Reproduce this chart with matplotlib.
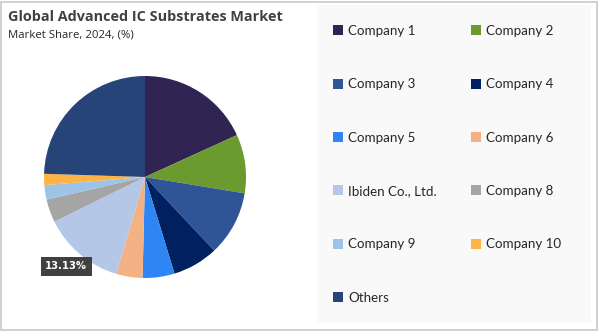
import matplotlib
matplotlib.use("Agg")
import matplotlib.pyplot as plt
from matplotlib.patches import Rectangle, Patch

labels = ["Company 1", "Company 2", "Company 3", "Company 4", "Company 5", "Company 6",
          "Ibiden Co., Ltd.", "Company 8", "Company 9", "Company 10", "Others"]
shares = [18.2, 9.4, 10.4, 7.3, 5.1, 4.2, 13.13, 3.7, 2.3, 1.8, 24.5]
colors = ["#302452", "#6b9a2f", "#2f5597", "#002060", "#2e86f5", "#f4b183",
          "#b4c7e7", "#a5a5a5", "#9dc3e6", "#ffb347", "#264478"]
highlight_label = "13.13%"

fig = plt.figure(figsize=(6, 3.32), dpi=100)
fig.patch.set_facecolor("white")

# outer frame
fig.add_artist(Rectangle((0.002, 0.005), 0.993, 0.99, transform=fig.transFigure,
                         fill=False, edgecolor="#c8c8c8", linewidth=1.2))
# legend panel
fig.add_artist(Rectangle((317/600, 1-323/332), (591-317)/600, (323-5)/332,
                         transform=fig.transFigure, facecolor="#f9f9f9",
                         edgecolor="none"))

fig.text(8/600, 1-17/332, "Global Advanced IC Substrates Market", fontsize=10.4,
         fontweight="bold", color="#404040", family="Open Sans", va="center", ha="left")
fig.text(8/600, 1-35/332, "Market Share, 2024, (%)", fontsize=8.2,
         color="#262626", family="Open Sans", va="center", ha="left")

ax = fig.add_axes([44/600, 1-278/332, 202/600, 202/332])
wedges, _ = ax.pie(shares, colors=colors, startangle=90, counterclock=False,
                   radius=1.0, wedgeprops=dict(linewidth=0))
ax.set_xlim(-1.0, 1.0)
ax.set_ylim(-1.0, 1.0)
ax.set_aspect("equal")
ax.axis("off")

fig.text(66/600, 1-266/332, highlight_label, fontsize=7.2, fontweight="bold",
         color="white", family="DejaVu Sans", ha="center", va="center",
         bbox=dict(boxstyle="square,pad=0.45", facecolor="#404040", edgecolor="none"))

handles = [Patch(facecolor=c, edgecolor="none") for c in colors]
order = list(range(0, len(labels), 2)) + list(range(1, len(labels), 2))
leg = fig.legend([handles[i] for i in order], [labels[i] for i in order],
                 ncol=2, loc="upper left", bbox_to_anchor=(321/600, 1-13/332),
                 frameon=False, prop=dict(family="Lato", size=9.6),
                 handlelength=0.75, handleheight=0.75, handletextpad=0.4,
                 labelspacing=3.10, columnspacing=2.55, labelcolor="#262626")

fig.savefig("out.png", dpi=100, facecolor="white")
